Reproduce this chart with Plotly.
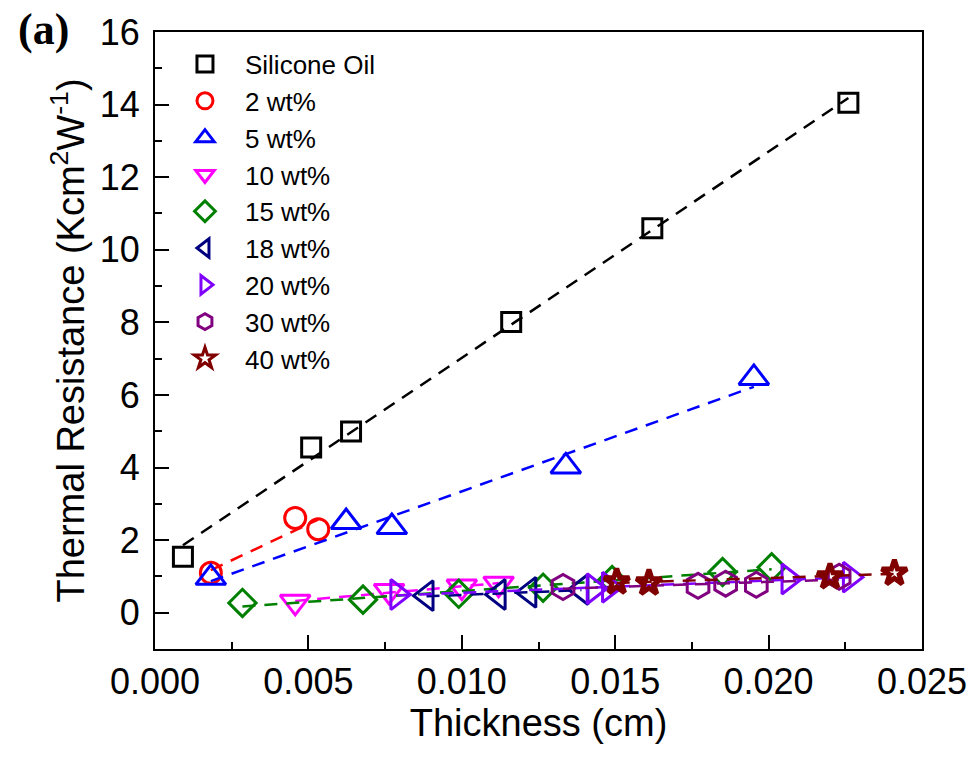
import numpy as np
import plotly.graph_objects as go

# Thickness (cm) and thermal resistance (K cm^2 W^-1) for each filler loading
sil_x = [0.00091, 0.00509, 0.00639, 0.01161, 0.01621, 0.02260]
sil_y = [1.54, 4.55, 4.99, 8.01, 10.59, 14.05]

wt2_x = [0.00182, 0.00457, 0.00532]
wt2_y = [1.10, 2.61, 2.30]

wt5_x = [0.00182, 0.00623, 0.00772, 0.01339, 0.01952]
wt5_y = [0.96, 2.50, 2.36, 4.03, 6.47]

wt10_x = [0.00457, 0.00763, 0.01000, 0.01120]
wt10_y = [0.30, 0.60, 0.72, 0.80]

wt15_x = [0.00285, 0.00678, 0.00990, 0.01265, 0.01490, 0.01850, 0.02010]
wt15_y = [0.27, 0.36, 0.52, 0.69, 0.90, 1.12, 1.25]

wt18_x = [0.00885, 0.01120, 0.01220, 0.01390]
wt18_y = [0.47, 0.50, 0.56, 0.64]

wt20_x = [0.00790, 0.01430, 0.01480, 0.02065, 0.02265]
wt20_y = [0.50, 0.66, 0.70, 0.93, 0.98]

wt30_x = [0.01330, 0.01770, 0.01860, 0.01960, 0.02230]
wt30_y = [0.71, 0.74, 0.80, 0.77, 0.99]

wt40_x = [0.01505, 0.01610, 0.02200, 0.02410]
wt40_y = [0.85, 0.82, 0.99, 1.09]

# name, x, y, symbol, colour, marker size, outline width, legend outline width
series = [
    ("Silicone Oil", sil_x, sil_y, "square-open", "#000000", 19, 3, 3),
    ("2 wt%", wt2_x, wt2_y, "circle-open", "#FF0000", 21, 3, 3),
    ("5 wt%", wt5_x, wt5_y, "triangle-up-open", "#0000FF", 26, 3, 3),
    ("10 wt%", wt10_x, wt10_y, "triangle-down-open", "#FF00FF", 26, 3, 3),
    ("15 wt%", wt15_x, wt15_y, "diamond-open", "#008000", 21, 3, 3),
    ("18 wt%", wt18_x, wt18_y, "triangle-left-open", "#000080", 26, 3, 3),
    ("20 wt%", wt20_x, wt20_y, "triangle-right-open", "#8000FF", 26, 3, 3),
    ("30 wt%", wt30_x, wt30_y, "hexagon-open", "#800080", 25, 3, 3),
    ("40 wt%", wt40_x, wt40_y, "star-open", "#800000", 19, 5, 3),
]

fig = go.Figure()
for name, xs, ys, sym, col, size, lw, leg_lw in series:
    fig.add_trace(go.Scatter(
        x=xs, y=ys, mode="markers", name=name, legendgroup=name,
        showlegend=(lw == leg_lw),
        marker=dict(symbol=sym, size=size, color=col, line=dict(width=lw, color=col)),
    ))
    if lw != leg_lw:
        # legend swatch with a lighter outline than the plotted markers
        fig.add_trace(go.Scatter(
            x=[None], y=[None], mode="markers", name=name, legendgroup=name,
            marker=dict(symbol=sym, size=16, color=col, line=dict(width=leg_lw, color=col)),
        ))
    # linear fit drawn over the measured thickness range
    k, b = np.polyfit(xs, ys, 1)
    fx = np.array([min(xs), max(xs)])
    fig.add_trace(go.Scatter(
        x=fx, y=k * fx + b, mode="lines", showlegend=False, hoverinfo="skip",
        legendgroup=name,
        line=dict(color=col, width=2.5, dash="13px,9px"),
    ))

axis_font = dict(family="Liberation Sans, Arial, sans-serif", size=36, color="#000000")
title_font = dict(family="Liberation Sans, Arial, sans-serif", size=38, color="#000000")

fig.update_xaxes(
    range=[0, 0.025], dtick=0.005, tick0=0, tickformat=".3f",
    ticks="inside", ticklen=14, tickwidth=2, tickcolor="#000000",
    minor=dict(dtick=0.0025, ticks="inside", ticklen=7, tickwidth=2, tickcolor="#000000"),
    showline=True, linewidth=2, linecolor="#000000", mirror=True,
    showgrid=False, zeroline=False, tickfont=axis_font,
    title=dict(text="Thickness (cm)", font=title_font, standoff=6),
    ticklabelstandoff=0,
)
fig.update_yaxes(
    range=[-1, 16], dtick=2, tick0=0,
    ticks="inside", ticklen=14, tickwidth=2, tickcolor="#000000",
    minor=dict(dtick=1, ticks="inside", ticklen=7, tickwidth=2, tickcolor="#000000"),
    showline=True, linewidth=2, linecolor="#000000", mirror=True,
    showgrid=False, zeroline=False, tickfont=axis_font,
    title=dict(text="Thermal Resistance (Kcm<sup>2</sup>W<sup>-1</sup>)", font=title_font, standoff=3),
    ticklabelstandoff=6,
)

fig.add_annotation(
    text="<b>(a)</b>", xref="paper", yref="paper", x=-0.146, y=1.004,
    xanchor="center", yanchor="middle", showarrow=False,
    font=dict(family="Liberation Serif, Times New Roman, serif", size=44, color="#000000"),
)

fig.update_layout(
    width=979, height=769,
    margin=dict(l=155, r=55, t=30, b=119.5),
    plot_bgcolor="#FFFFFF", paper_bgcolor="#FFFFFF",
    legend=dict(
        x=0.013, y=0.986, xanchor="left", yanchor="top",
        font=dict(family="Liberation Sans, Arial, sans-serif", size=26, color="#000000"),
        bgcolor="rgba(0,0,0,0)", itemwidth=70, tracegroupgap=0,
        traceorder="normal",
    ),
    showlegend=True,
)

fig.write_html("out.html")
